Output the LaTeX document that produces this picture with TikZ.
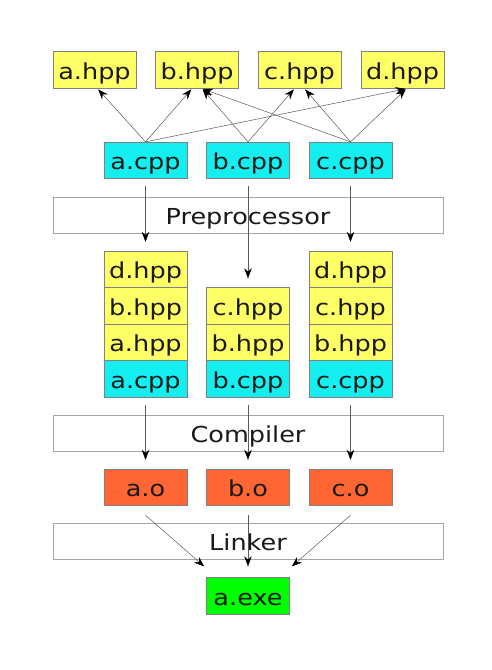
\documentclass[tikz,border=0pt]{standalone}
\usepackage{fontspec}
\setmainfont{DejaVu Sans}[FakeStretch=1.16]
\usetikzlibrary{arrows.meta}
\definecolor{hppyellow}{RGB}{255,255,102}
\definecolor{cppcyan}{RGB}{20,238,238}
\definecolor{objorange}{RGB}{255,102,51}
\definecolor{exegreen}{RGB}{0,255,0}
\tikzstyle{file}=[draw=gray, line width=0.8pt, minimum width=83pt, minimum height=36.5pt, inner sep=0pt, text height=24pt, text depth=5.4pt, text=black!90, font=\fontsize{22}{26}\selectfont]
\tikzstyle{hpp}=[file, fill=hppyellow]
\tikzstyle{cpp}=[file, fill=cppcyan]
\tikzstyle{obj}=[file, fill=objorange]
\tikzstyle{exe}=[file, fill=exegreen]
\tikzstyle{stage}=[draw=gray!70, fill=white, line width=0.8pt, minimum width=390pt, minimum height=36pt, inner sep=0pt, text height=24pt, text depth=5.4pt, text=black!90, font=\fontsize{22}{26}\selectfont]
\tikzstyle{dep}=[draw=gray!70!black, line width=0.5pt, -{Stealth[black,length=10pt,width=7.5pt]}]
\tikzstyle{incl}=[draw=gray!80, line width=0.6pt]

\begin{document}
\begin{tikzpicture}[x=1pt, y=-1pt, every edge/.style={dep}]
\useasboundingbox (0,0) rectangle (492,670);
% headers
\node[hpp] (ha) at (94.5,70) {a.hpp};
\node[hpp] (hb) at (197,70) {b.hpp};
\node[hpp] (hc) at (299.5,70) {c.hpp};
\node[hpp] (hd) at (402.5,70) {d.hpp};
% sources
\node[cpp] (ca) at (145.5,160.5) {a.cpp};
\node[cpp] (cb) at (248,160.5) {b.cpp};
\node[cpp] (cc) at (350.5,160.5) {c.cpp};
\node[stage] (pre) at (248,215) {Preprocessor};
% preprocessed units
\node[hpp] (a4) at (145.5,269.5) {d.hpp};
\node[hpp] (a3) at (145.5,306) {b.hpp};
\node[hpp] (a2) at (145.5,342.5) {a.hpp};
\node[cpp] (a1) at (145.5,379) {a.cpp};
\node[hpp] (b3) at (248,306) {c.hpp};
\node[hpp] (b2) at (248,342.5) {b.hpp};
\node[cpp] (b1) at (248,379) {b.cpp};
\node[hpp] (c4) at (350.5,269.5) {d.hpp};
\node[hpp] (c3) at (350.5,306) {c.hpp};
\node[hpp] (c2) at (350.5,342.5) {b.hpp};
\node[cpp] (c1) at (350.5,379) {c.cpp};
\node[stage] (comp) at (248,433) {Compiler};
% objects
\node[obj] (oa) at (145.5,487.5) {a.o};
\node[obj] (ob) at (248,487.5) {b.o};
\node[obj] (oc) at (350.5,487.5) {c.o};
\node[stage] (link) at (248,541.5) {Linker};
\node[exe] (aexe) at (248,596) {a.exe};

\path[incl, shorten >=1pt]
(ca.north) edge ([xshift=3pt]ha.south)
(ca.north) edge ([xshift=-5pt]hb.south)
(ca.north) edge ([xshift=4pt]hd.south)
(cb.north) edge ([xshift=5pt]hb.south)
(cb.north) edge ([xshift=-5pt]hc.south)
(cc.north) edge ([xshift=5pt]hb.south)
(cc.north) edge ([xshift=5pt]hc.south)
(cc.north) edge ([xshift=4pt]hd.south)
;
\path[shorten <=7pt, shorten >=9pt]
(ca.south) edge (a4.north)
(cb.south) edge (b3.north)
(cc.south) edge (c4.north)
(a1.south) edge (oa.north)
(b1.south) edge (ob.north)
(c1.south) edge (oc.north)
;
\path
([yshift=-9pt]oa.south) edge ([shift={(-2pt,11pt)}]aexe.north west)
([yshift=-9pt]ob.south) edge ([yshift=11pt]aexe.north)
([yshift=-9pt]oc.south) edge ([shift={(2pt,11pt)}]aexe.north east)
;
\end{tikzpicture}
\end{document}
